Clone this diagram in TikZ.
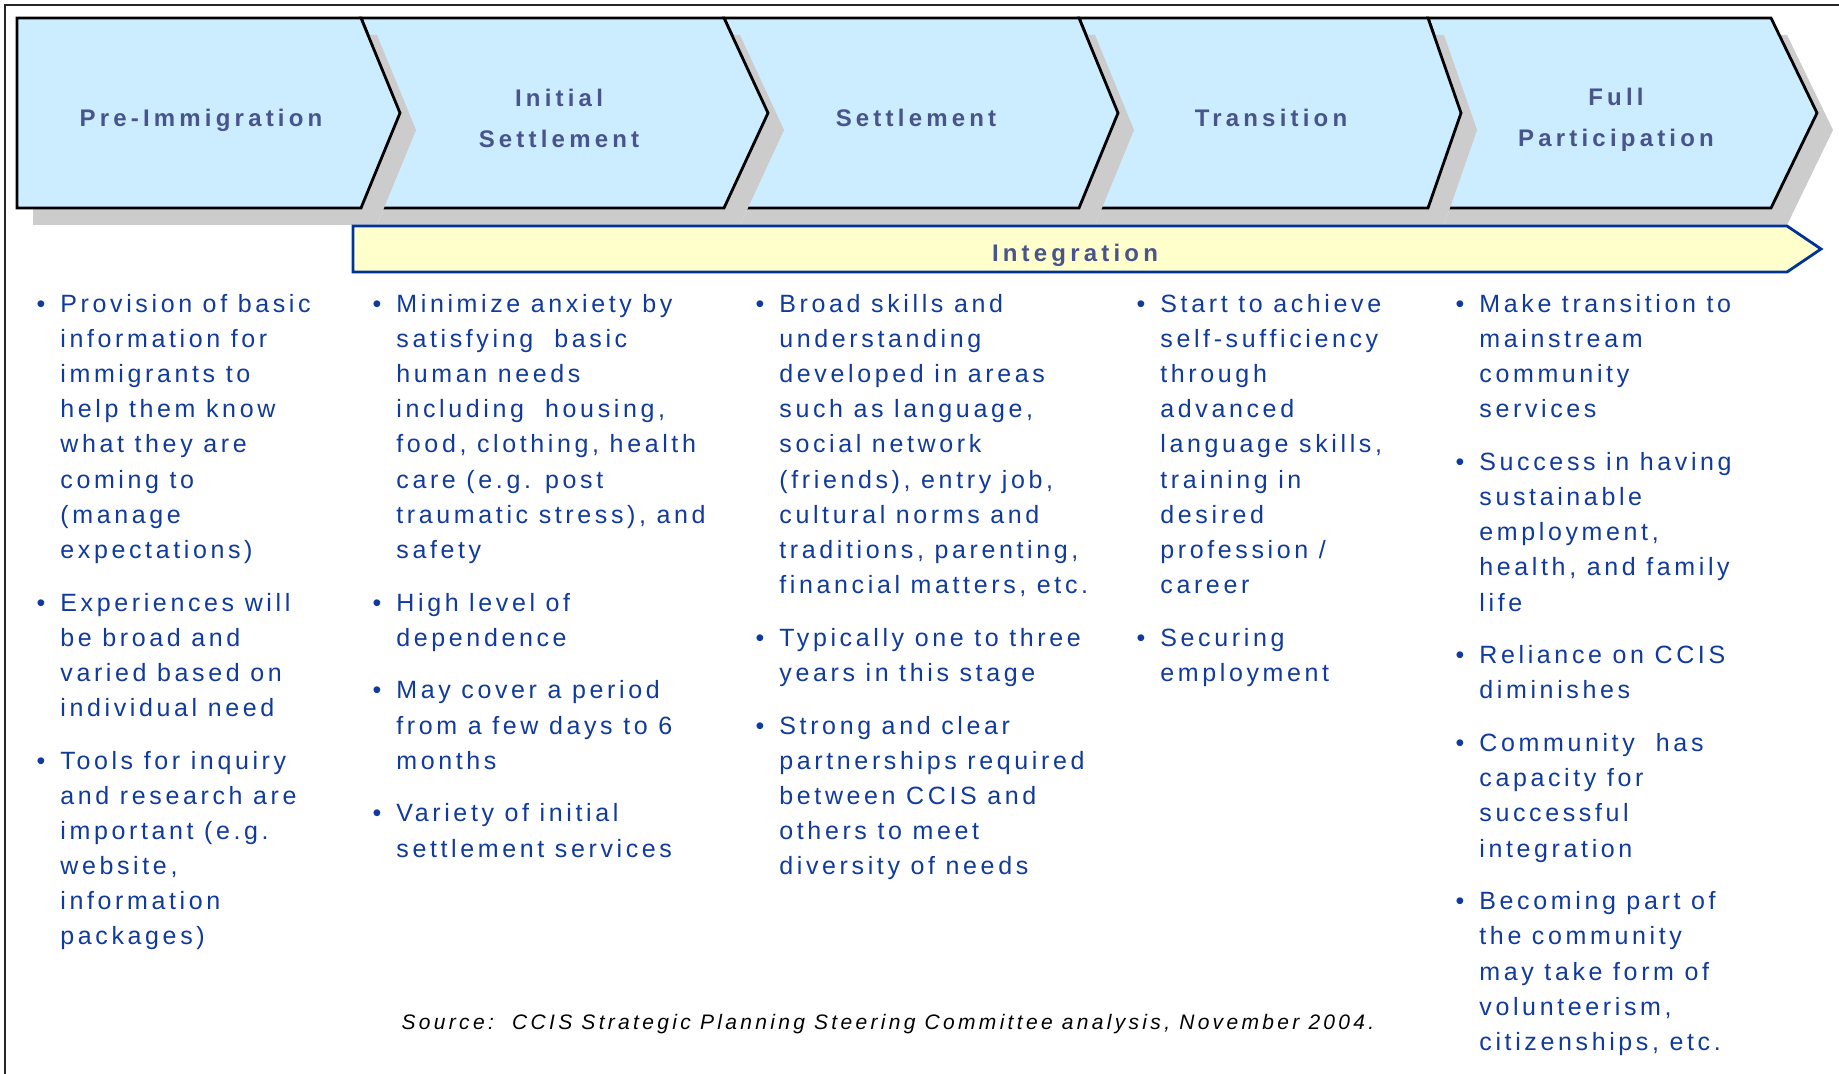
\documentclass[tikz,border=0pt]{standalone}
\usepackage{fontspec}
\setmainfont{Liberation Sans}
\newfontfamily\bodyfont[LetterSpace=14.5]{Liberation Sans}
\newfontfamily\headfont[LetterSpace=17.5]{Liberation Sans}
\newfontfamily\srcfont[LetterSpace=15.8]{Liberation Sans}
\usepackage{tikz}
\usetikzlibrary{positioning}
\definecolor{chevfill}{RGB}{204,236,255}
\definecolor{shadegray}{RGB}{204,204,204}
\definecolor{headcol}{RGB}{72,84,140}
\definecolor{bodycol}{RGB}{16,58,155}
\definecolor{intfill}{RGB}{255,255,204}
\definecolor{intline}{RGB}{0,51,153}
\tikzset{
  chev/.style={draw=black,fill=chevfill,line width=1.4pt,line join=miter},
  chevshade/.style={fill=shadegray,shift={(16,17)}},
  stagename/.style={align=center,inner sep=0pt,text=headcol,font=\headfont\bfseries\fontsize{12}{20.5}\selectfont},
  itemcol/.style={anchor=north west,align=left,inner sep=0pt,text=bodycol,font=\bodyfont\fontsize{12.5}{17.55}\selectfont}
}
\newcommand{\bul}{\llap{\textbullet\hspace{7.5pt}}}
\begin{document}
\begin{tikzpicture}[x=0.5pt,y=-0.5pt]
				\useasboundingbox (0,0) rectangle (1839,1074);
				\draw [line width=1.2pt,color=black!85] (5,1074) -- (5,5) -- (1839,5);

				% stages, drawn right to left so each shadow falls on the next one
				\fill [chevshade] (1428,18) -- (1771,18) -- (1817,113) -- (1771,208) -- (1428,208) -- (1461,113) -- cycle;
				\draw [chev] (1428,18) -- (1771,18) -- (1817,113) -- (1771,208) -- (1428,208) -- (1461,113) -- cycle;
				\fill [chevshade] (1079,18) -- (1428,18) -- (1461,113) -- (1428,208) -- (1079,208) -- (1118,113) -- cycle;
				\draw [chev] (1079,18) -- (1428,18) -- (1461,113) -- (1428,208) -- (1079,208) -- (1118,113) -- cycle;
				\fill [chevshade] (724,18) -- (1079,18) -- (1118,113) -- (1079,208) -- (724,208) -- (768,113) -- cycle;
				\draw [chev] (724,18) -- (1079,18) -- (1118,113) -- (1079,208) -- (724,208) -- (768,113) -- cycle;
				\fill [chevshade] (361,18) -- (724,18) -- (768,113) -- (724,208) -- (361,208) -- (400,113) -- cycle;
				\draw [chev] (361,18) -- (724,18) -- (768,113) -- (724,208) -- (361,208) -- (400,113) -- cycle;
				\fill [chevshade] (17,18) -- (361,18) -- (400,113) -- (361,208) -- (17,208) -- cycle;
				\draw [chev] (17,18) -- (361,18) -- (400,113) -- (361,208) -- (17,208) -- cycle;

				\node (pre) at (201,120) [stagename] {Pre-Immigration};
				\node (initial) at (559,118) [stagename] {Initial\\Settlement};
				\node (settle) at (916,117.5) [stagename] {Settlement};
				\node (transit) at (1271,117.5) [stagename] {Transition};
				\node (full) at (1616,120) [stagename] {Full\\Participation};

				% integration band
				\draw [fill=intfill,draw=intline,line width=1.4pt] (353,226) -- (1787,226) -- (1821,249) -- (1787,272) -- (353,272) -- cycle;
				\node (integ) at (1075,262) [anchor=base,inner sep=0pt,text=headcol,font=\headfont\bfseries\fontsize{12}{14}\selectfont] {Integration};

				% what happens at each stage
				\node (preitems) at (60,294) [itemcol] {\bul Provision of basic\\information for\\immigrants to\\help them know\\what they are\\coming to\\(manage\\expectations)\\[8.85pt]
					\bul Experiences will\\be broad and\\varied based on\\individual need\\[8.85pt]
					\bul Tools for inquiry\\and research are\\important (e.g.\\website,\\information\\packages)};
				\node (inititems) at (396,294) [itemcol] {\bul Minimize anxiety by\\satisfying\ \ basic\\human needs\\including\ \ housing,\\food, clothing, health\\care (e.g. post\\traumatic stress), and\\safety\\[8.85pt]
					\bul High level of\\dependence\\[8.85pt]
					\bul May cover a period\\from a few days to 6\\months\\[8.85pt]
					\bul Variety of initial\\settlement services};
				\node (settleitems) at (779,294) [itemcol] {\bul Broad skills and\\understanding\\developed in areas\\such as language,\\social network\\(friends), entry job,\\cultural norms and\\traditions, parenting,\\financial matters, etc.\\[8.85pt]
					\bul Typically one to three\\years in this stage\\[8.85pt]
					\bul Strong and clear\\partnerships required\\between CCIS and\\others to meet\\diversity of needs};
				\node (transititems) at (1160,294) [itemcol] {\bul Start to achieve\\self-sufficiency\\through\\advanced\\language skills,\\training in\\desired\\profession /\\career\\[8.85pt]
					\bul Securing\\employment};
				\node (fullitems) at (1479,294) [itemcol] {\bul Make transition to\\mainstream\\community\\services\\[8.85pt]
					\bul Success in having\\sustainable\\employment,\\health, and family\\life\\[8.85pt]
					\bul Reliance on CCIS\\diminishes\\[8.85pt]
					\bul Community\ \ has\\capacity for\\successful\\integration\\[8.85pt]
					\bul Becoming part of\\the community\\may take form of\\volunteerism,\\citizenships, etc.};

				\node (source) at (888,1029) [anchor=base,inner sep=0pt,font=\srcfont\itshape\fontsize{10.5}{12}\selectfont] {Source:\ \ CCIS Strategic Planning Steering Committee analysis, November 2004.};
			\end{tikzpicture}
\end{document}
